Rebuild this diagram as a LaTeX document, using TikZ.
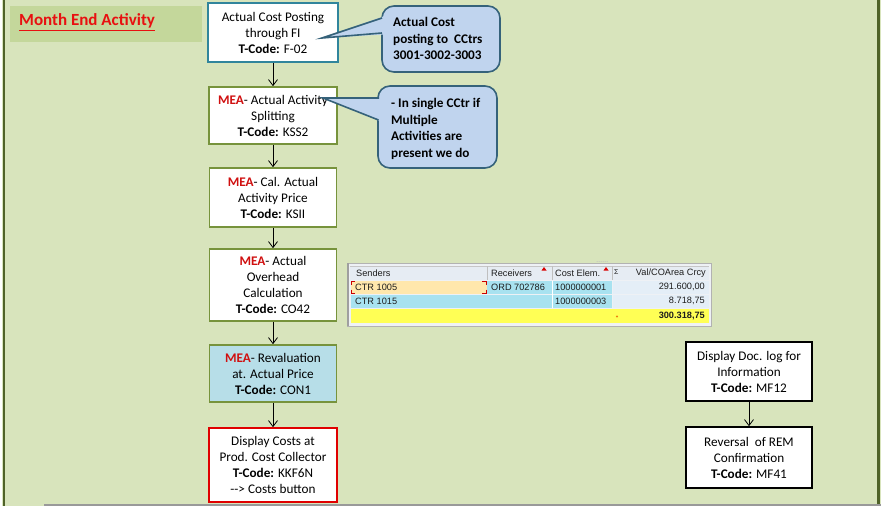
\documentclass[tikz,border=0pt]{standalone}
\usepackage{fontspec}
\setmainfont{Carlito}
\newfontfamily\tabfont{Liberation Sans}
\usetikzlibrary{arrows.meta}
\definecolor{bg}{HTML}{D8E4BC}
\definecolor{titlefill}{HTML}{C4D79B}
\definecolor{olive}{HTML}{77933C}
\definecolor{darkolive}{HTML}{4F6228}
\definecolor{tealb}{HTML}{31859C}
\definecolor{lightblue}{HTML}{B7DEE8}
\definecolor{redb}{HTML}{E00000}
\definecolor{meared}{HTML}{D01010}
\definecolor{titlered}{HTML}{E81010}
\definecolor{callfill}{HTML}{C0D4EE}
\definecolor{callline}{HTML}{35627A}
\definecolor{tabhead}{HTML}{E6ECF3}
\definecolor{tabframe}{HTML}{EEF1F5}
\definecolor{tabcyan}{HTML}{A8E2F0}
\definecolor{tabval}{HTML}{E4EEF7}
\definecolor{tabsel}{HTML}{FFE7AC}
\definecolor{tabyellow}{HTML}{FFFF55}
\definecolor{tabtext}{HTML}{1E1E1E}
\newcommand{\mea}{\textcolor{meared}{\textbf{MEA}}}
\begin{document}
\begin{tikzpicture}[x=1pt,y=-1pt,
  flowbox/.style={draw, fill=white, line width=1.6pt, inner sep=0pt, align=center,
    font=\fontsize{13.2}{16}\selectfont},
  arr/.style={line width=0.8pt, -{Straight Barb[length=6pt,width=9pt]}},
  callout/.style={fill=callfill, draw=callline, line width=1.6pt, rounded corners=12pt},
  calltext/.style={inner sep=0pt, align=left, font=\fontsize{13.2}{16.8}\selectfont\bfseries},
  tabtxt/.style={inner sep=0pt, text=tabtext, font=\tabfont\fontsize{9.2}{10}\selectfont}
]
\useasboundingbox (0,0) rectangle (881,506);
% background and borders
\fill[bg] (0,0) rectangle (881,506);
\fill[white] (0,0) rectangle (2,506);
\fill[darkolive] (2.5,0) rectangle (5,506);
\fill[darkolive] (877,0) rectangle (880,506);
\draw[gray!80, line width=1.5pt] (44,505.2) -- (881,505.2);
% title
\fill[titlefill] (10,6) rectangle (202,42);
\node[anchor=west, inner sep=0pt, text=titlered, font=\fontsize{17}{18}\selectfont\bfseries] (title) at (19,22) {\underline{Month End Activity}};
% flow boxes
\node[flowbox, draw=tealb, minimum width=130pt, minimum height=59pt] (b1) at (273,32.5)
  {Actual Cost Posting\\through FI\\\textbf{T-Code:} F-02};
\node[flowbox, draw=olive, minimum width=128pt, minimum height=57pt] (b2) at (273,115.5)
  {\mea- Actual Activity\\Splitting\\\textbf{T-Code:} KSS2};
\node[flowbox, draw=olive, minimum width=127pt, minimum height=59pt] (b3) at (273,197.5)
  {\mea- Cal. Actual\\Activity Price\\\textbf{T-Code:} KSII};
\node[flowbox, draw=olive, minimum width=127pt, minimum height=72pt] (b4) at (273,285)
  {\mea- Actual\\Overhead\\Calculation\\\textbf{T-Code:} CO42};
\node[flowbox, draw=olive, fill=lightblue, minimum width=127pt, minimum height=57pt] (b5) at (273,373.5)
  {\mea- Revaluation\\at. Actual Price\\\textbf{T-Code:} CON1};
\node[flowbox, draw=redb, minimum width=128pt, minimum height=74pt] (b6) at (273,465)
  {Display Costs at\\Prod. Cost Collector\\\textbf{T-Code:} KKF6N\\-{}-> Costs button};
\node[flowbox, draw=black, minimum width=126pt, minimum height=59pt] (b7) at (749,371.5)
  {Display Doc. log for\\Information\\\textbf{T-Code:} MF12};
\node[flowbox, draw=black, minimum width=126pt, minimum height=61pt] (b8) at (749,457.5)
  {Reversal\ \ of REM\\Confirmation\\\textbf{T-Code:} MF41};
% arrows
\draw[arr] (b1.south) -- (b2.north);
\draw[arr] (b2.south) -- (b3.north);
\draw[arr] (b3.south) -- (b4.north);
\draw[arr] (b4.south) -- (b5.north);
\draw[arr] (b5.south) -- (b6.north);
\draw[arr] (b7.south) -- (b8.north);
% callout 1
\draw[callout] (382,6) rectangle (500,72);
\fill[callfill] (322,38) -- (384.5,16) -- (384.5,34.5) -- cycle;
\coordinate (t1) at (322,38);
\coordinate (t1a) at (382,18);
\coordinate (t1b) at (382,33);
\draw[callline, line width=1.6pt, line join=miter] (t1a) -- (t1) -- (t1b);
\node[calltext, anchor=west] (c1) at (393,38.5)
  {Actual Cost\\posting to\ \ CCtrs\\3001-3002-3003};
% callout 2
\draw[callout] (378,86) rectangle (497,168);
\fill[callfill] (323,98) -- (381,97.2) -- (381,121.5) -- cycle;
\coordinate (t2) at (323,98);
\coordinate (t2a) at (379,98);
\coordinate (t2b) at (378.5,120);
\draw[callline, line width=1.6pt, line join=miter] (t2a) -- (t2) -- (t2b);
\node[calltext, anchor=west] (c2) at (391,129)
  {- In single CCtr if\\Multiple\\Activities are\\present we do};
% table
\fill[tabframe] (347,263) rectangle (712,326);
\draw[gray!60, line width=0.6pt] (347.5,263) rectangle (711.5,326);
\fill[gray!75] (347,263) rectangle (349,326);
\fill[tabhead] (350,266) rectangle (709,280);
\draw[gray!45, line width=0.5pt] (350,266) -- (709,266);
\draw[gray!50, line width=0.5pt] (487,266) -- (487,280) (552,266) -- (552,280) (612,266) -- (612,280);
\fill[tabsel] (351,280.5) rectangle (486.5,294);
\fill[tabcyan] (487,280.5) rectangle (612,294);
\fill[tabval] (612.5,280.5) rectangle (709,294);
\fill[tabcyan] (351,294.5) rectangle (612,308);
\fill[tabval] (612.5,294.5) rectangle (709,308);
\draw[white, line width=0.5pt] (552,280.5) -- (552,308);
\fill[tabyellow] (351,308.5) rectangle (709,323);
\draw[red!80!black, line width=0.8pt] (355,281) -- (351.5,281) -- (351.5,285);
\draw[red!80!black, line width=0.8pt] (351.5,289.5) -- (351.5,293.5) -- (355,293.5);
\draw[red!80!black, line width=0.8pt] (482,281) -- (486,281) -- (486,285);
\draw[red!80!black, line width=0.8pt] (486,289.5) -- (486,293.5) -- (482,293.5);
\fill[red!85!black] (541.5,270.5) -- (546.5,270.5) -- (544,267) -- cycle;
\fill[red!85!black] (603.5,270.5) -- (608.5,270.5) -- (606,267) -- cycle;
\foreach \i in {0,...,5} {\fill[gray!50] (597+2*\i,261.5) circle (0.5pt);}
\fill[orange!70!brown] (617,316.5) circle (1.2pt);
\node[tabtxt, anchor=west] (h1) at (356,273) {Senders};
\node[tabtxt, anchor=west] (h2) at (491,273) {Receivers};
\node[tabtxt, anchor=west] (h3) at (555,273) {Cost Elem.};
\node[tabtxt, anchor=west, font=\tabfont\fontsize{7}{8}\selectfont] (h4) at (614,272) {Σ};
\node[tabtxt, anchor=east] (h5) at (706,273) {Val/COArea Crcy};
\node[tabtxt, anchor=west] (r11) at (355,287) {CTR 1005};
\node[tabtxt, anchor=west] (r12) at (491,287) {ORD 702786};
\node[tabtxt, anchor=west] (r13) at (555,287) {1000000001};
\node[tabtxt, anchor=east] (r14) at (705,287) {291.600,00};
\node[tabtxt, anchor=west] (r21) at (355,301) {CTR 1015};
\node[tabtxt, anchor=west] (r23) at (555,301) {1000000003};
\node[tabtxt, anchor=east] (r24) at (705,301) {8.718,75};
\node[tabtxt, anchor=east, font=\tabfont\bfseries\fontsize{9.2}{10}\selectfont] (r34) at (705,316) {300.318,75};
\end{tikzpicture}
\end{document}
